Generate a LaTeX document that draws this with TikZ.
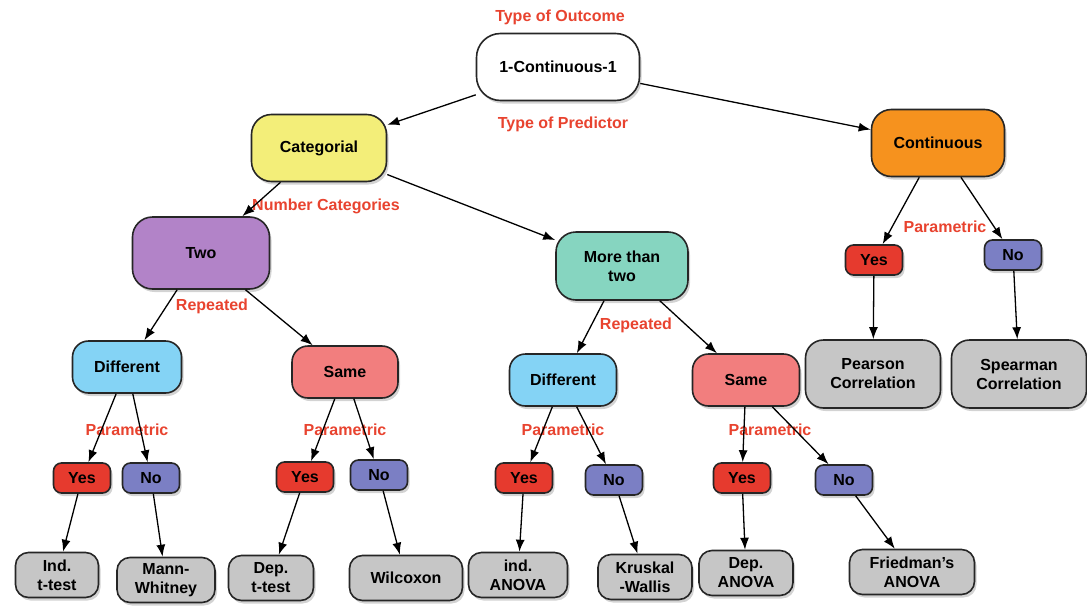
\documentclass[tikz,border=0pt]{standalone}
\usepackage{fontspec}
\setmainfont{Liberation Sans}
\usetikzlibrary{
  arrows.meta,
  shadows,
}
\definecolor{lblred}{HTML}{E8432F}
\definecolor{catyellow}{HTML}{F3EE79}
\definecolor{conorange}{HTML}{F6921E}
\definecolor{twopurple}{HTML}{B283C8}
\definecolor{moreteal}{HTML}{86D5C0}
\definecolor{diffblue}{HTML}{84D3F5}
\definecolor{samesalmon}{HTML}{F27E7E}
\definecolor{yesred}{HTML}{E63A2E}
\definecolor{noblue}{HTML}{7B7FC4}
\definecolor{leafgray}{HTML}{C6C6C6}
\tikzset{
  >={Latex[length=12pt,width=9pt]},
  box/.style={rectangle,draw=black!85,line width=1.6pt,align=center,inner sep=2pt,
    font=\fontsize{16}{19}\selectfont\bfseries,
    drop shadow={opacity=0.35,shadow xshift=2pt,shadow yshift=-3pt}},
  bigbox/.style={box,rounded corners=20pt,minimum height=67pt},
  midbox/.style={box,rounded corners=16pt,minimum height=52pt},
  tinybox/.style={box,rounded corners=8pt,minimum width=57pt,minimum height=30pt},
  leafbox/.style={box,rounded corners=13pt,fill=leafgray,minimum height=45pt},
  lbl/.style={text=lblred,font=\fontsize{16}{18}\selectfont\bfseries},
  link/.style={->,line width=1.3pt,black},
}
\begin{document}
\begin{tikzpicture}[x=1pt,y=-1pt]

        \useasboundingbox (0,0) rectangle (1087,608);

        \node[bigbox,fill=white,rounded corners=24pt,minimum width=163pt] (root) at (558,67) {1-Continuous-1};
        \node[bigbox,fill=catyellow,minimum width=135pt] (categorial) at (319,148) {Categorial};
        \node[bigbox,fill=conorange,minimum width=133pt] (continuous) at (938,143) {Continuous};
        \node[bigbox,fill=twopurple,minimum width=137pt,minimum height=72pt] (two) at (201,253) {Two};
        \node[bigbox,fill=moreteal,minimum width=132pt,minimum height=68pt] (morethan) at (622,266) {More than\\two};

        \node[midbox,fill=diffblue,minimum width=109pt] (diffA) at (127,367) {Different};
        \node[midbox,fill=samesalmon,minimum width=106pt] (sameA) at (345,372) {Same};
        \node[midbox,fill=diffblue,minimum width=107pt] (diffB) at (563,380) {Different};
        \node[midbox,fill=samesalmon,minimum width=107pt] (sameB) at (746,380) {Same};

        \node[tinybox,fill=yesred] (yesA1) at (82,478) {Yes};
        \node[tinybox,fill=noblue] (noA1) at (151,478) {No};
        \node[tinybox,fill=yesred] (yesA2) at (305,477) {Yes};
        \node[tinybox,fill=noblue] (noA2) at (379,475) {No};
        \node[tinybox,fill=yesred] (yesB1) at (524,478) {Yes};
        \node[tinybox,fill=noblue] (noB1) at (614,480) {No};
        \node[tinybox,fill=yesred] (yesB2) at (742,478) {Yes};
        \node[tinybox,fill=noblue] (noB2) at (844,480) {No};
        \node[tinybox,fill=yesred] (yesC) at (874,260) {Yes};
        \node[tinybox,fill=noblue] (noC) at (1013,255) {No};

        \node[leafbox,minimum width=83pt] (indt) at (57,575) {Ind.\\t-test};
        \node[leafbox,minimum width=98pt] (mannw) at (166,580) {Mann-\\Whitney};
        \node[leafbox,minimum width=85pt] (dept) at (271,578) {Dep.\\t-test};
        \node[leafbox,minimum width=113pt] (wilc) at (406,578) {Wilcoxon};
        \node[leafbox,minimum width=99pt] (inda) at (518,575) {ind.\\ANOVA};
        \node[leafbox,minimum width=94pt] (krusk) at (645,577) {Kruskal\\-Wallis};
        \node[leafbox,minimum width=94pt] (depa) at (746,573) {Dep.\\ANOVA};
        \node[leafbox,minimum width=125pt] (fried) at (912,572) {Friedman's\\ANOVA};
        \node[leafbox,minimum width=135pt,minimum height=68pt,rounded corners=18pt] (pears) at (873,374) {Pearson\\Correlation};
        \node[leafbox,minimum width=135pt,minimum height=68pt,rounded corners=18pt] (spear) at (1019,374) {Spearman\\Correlation};

        \node[lbl] (lbloutcome) at (560,17) {Type of Outcome};
        \node[lbl] (lblpredictor) at (563,124) {Type of Predictor};
        \node[lbl] (lblnumber) at (326,206) {Number Categories};
        \node[lbl] (lblrepA) at (212,306) {Repeated};
        \node[lbl] (lblrepB) at (636,325) {Repeated};
        \node[lbl] (lblparA) at (127,430) {Parametric};
        \node[lbl] (lblparB) at (345,430) {Parametric};
        \node[lbl] (lblparC) at (563,430) {Parametric};
        \node[lbl] (lblparD) at (770,430) {Parametric};
        \node[lbl] (lblparE) at (945,227) {Parametric};

        \draw[link] (root) -- (categorial);
        \draw[link] (root) -- (continuous);
        \draw[link] (categorial) -- (two);
        \draw[link] (categorial) -- (morethan);
        \draw[link] (two) -- (diffA);
        \draw[link] (two) -- (sameA);
        \draw[link] (morethan) -- (diffB);
        \draw[link] (morethan) -- (sameB);
        \draw[link] (continuous) -- (yesC);
        \draw[link] (continuous) -- (noC);

        \draw[link] (diffA) -- (yesA1);
        \draw[link] (diffA) -- (noA1);
        \draw[link] (sameA) -- (yesA2);
        \draw[link] (sameA) -- (noA2);
        \draw[link] (diffB) -- (yesB1);
        \draw[link] (diffB) -- (noB1);
        \draw[link] (sameB) -- (yesB2);
        \draw[link] (sameB) -- (noB2);

        \draw[link] (yesA1) -- (indt);
        \draw[link] (noA1) -- (mannw);
        \draw[link] (yesA2) -- (dept);
        \draw[link] (noA2) -- (wilc);
        \draw[link] (yesB1) -- (inda);
        \draw[link] (noB1) -- (krusk);
        \draw[link] (yesB2) -- (depa);
        \draw[link] (noB2) -- (fried);
        \draw[link] (yesC) -- (pears);
        \draw[link] (noC) -- (spear);

\end{tikzpicture}
\end{document}
